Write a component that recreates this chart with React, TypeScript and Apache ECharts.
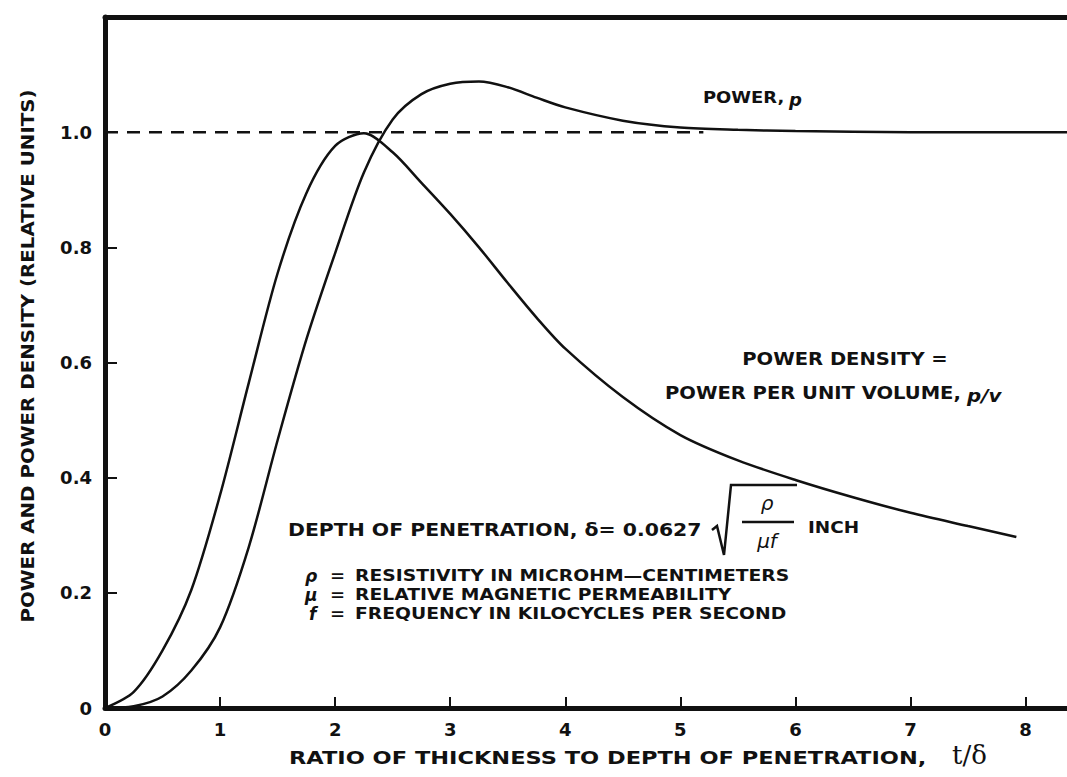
import React, { useEffect, useRef } from 'react';
import * as echarts from 'echarts';

// Axis ticks
const xTicks = [0, 1, 2, 3, 4, 5, 6, 7, 8];
const yTicks = [0, 0.2, 0.4, 0.6, 0.8, 1.0];

// Power density (p/v)
const densityX = [0, 0.25, 0.5, 0.75, 1.0, 1.25, 1.5, 1.75, 2.0, 2.25, 2.5, 2.75, 3.0, 3.25, 3.5, 3.75, 4.0, 4.5, 5.0, 5.5, 6.0, 6.5, 7.0, 7.5, 7.92];
const densityY = [0, 0.028, 0.1, 0.205, 0.37, 0.565, 0.755, 0.894, 0.976, 0.998, 0.965, 0.912, 0.858, 0.8, 0.738, 0.678, 0.624, 0.54, 0.474, 0.43, 0.396, 0.366, 0.339, 0.316, 0.297];

// Power (p)
const powerX = [0, 0.25, 0.5, 0.75, 1.0, 1.25, 1.5, 1.75, 2.0, 2.25, 2.5, 2.75, 3.0, 3.25, 3.5, 3.75, 4.0, 4.5, 5.0, 5.5, 6.0, 7.0, 8.36];
const powerY = [0, 0.003, 0.02, 0.065, 0.14, 0.28, 0.465, 0.64, 0.79, 0.93, 1.022, 1.066, 1.084, 1.088, 1.078, 1.06, 1.043, 1.02, 1.008, 1.004, 1.002, 1.0, 1.0];

// Dashed reference level
const refX = [0, 5.2];
const refY = [1, 1];

const FONT = '"DejaVu Sans", Arial, sans-serif';
const INK = '#111';

type TOpt = { size?: number; sx?: number; rot?: number; align?: string; italic?: boolean; weight?: string; family?: string };
const txt = (text: string, x: number, y: number, o: TOpt = {}) => ({
  type: 'text',
  x,
  y,
  scaleX: o.sx ?? 1.2,
  rotation: o.rot ?? 0,
  style: {
    text,
    fill: INK,
    fontSize: o.size ?? 17,
    fontWeight: o.weight ?? 'bold',
    fontStyle: o.italic ? 'italic' : 'normal',
    fontFamily: o.family ?? FONT,
    textAlign: o.align ?? 'left',
    textVerticalAlign: 'middle',
    verticalAlign: 'middle',
  },
});

export default function App() {
  const ref = useRef<HTMLDivElement>(null);

  useEffect(() => {
    if (!ref.current) return;
    const chart = echarts.init(ref.current, null, { renderer: 'svg' });
    const pairs = (xs: number[], ys: number[]) => xs.map((x, i) => [x, ys[i]]);

    chart.setOption({
      animation: false,
      backgroundColor: '#fff',
      grid: { left: 105, right: 0, top: 17, bottom: 69 },
      xAxis: [
        {
          type: 'value',
          min: 0,
          max: 8.36,
          interval: 1,
          axisLine: { show: true, onZero: false, lineStyle: { color: INK, width: 5 } },
          axisTick: { show: true, inside: true, length: 11, customValues: xTicks, lineStyle: { color: INK, width: 2 } },
          axisLabel: {
            customValues: xTicks,
            margin: 12,
            color: INK,
            fontFamily: FONT,
            fontWeight: 'bold',
            fontSize: 18,
            formatter: (v: number) => String(v),
          },
          splitLine: { show: false },
        },
        {
          type: 'value',
          position: 'top',
          min: 0,
          max: 8.36,
          axisLine: { show: true, onZero: false, lineStyle: { color: INK, width: 5 } },
          axisTick: { show: false },
          axisLabel: { show: false },
          splitLine: { show: false },
        },
      ],
      yAxis: {
        type: 'value',
        min: 0,
        max: 1.2,
        interval: 0.2,
        axisLine: { show: true, onZero: false, lineStyle: { color: INK, width: 5 } },
        axisTick: { show: true, inside: true, length: 12, customValues: yTicks, lineStyle: { color: INK, width: 2 } },
        axisLabel: {
          customValues: yTicks,
          margin: 13,
          color: INK,
          fontFamily: FONT,
          fontWeight: 'bold',
          fontSize: 18,
          formatter: (v: number) => (v === 0 ? '0' : v.toFixed(1)),
        },
        splitLine: { show: false },
      },
      series: [
        {
          name: 'Power density',
          type: 'line',
          data: pairs(densityX, densityY),
          showSymbol: false,
          smooth: 0.3,
          smoothMonotone: 'none',
          lineStyle: { color: INK, width: 2.5 },
        },
        {
          name: 'Power',
          type: 'line',
          data: pairs(powerX, powerY),
          showSymbol: false,
          smooth: 0.3,
          smoothMonotone: 'none',
          lineStyle: { color: INK, width: 2.5 },
        },
        {
          name: 'Reference',
          type: 'line',
          data: pairs(refX, refY),
          showSymbol: false,
          lineStyle: { color: INK, width: 2.5, type: [13, 9] },
        },
      ],
      graphic: [
        // axis titles
        txt('POWER AND POWER DENSITY (RELATIVE UNITS)', 27, 356, { rot: Math.PI / 2, align: 'center', size: 18, sx: 1.1 }),
        txt('RATIO OF THICKNESS TO DEPTH OF PENETRATION,', 289, 758, { size: 18, sx: 1.25 }),
        txt('t/δ', 952, 755, { size: 26, sx: 1.0, weight: 'normal', family: '"DejaVu Serif", serif' }),
        // curve labels
        txt('POWER,', 703, 97, { size: 16, sx: 1.12 }),
        txt('p', 789, 99, { size: 18, sx: 1.0, italic: true }),
        txt('POWER DENSITY =', 845, 359, { size: 17, sx: 1.15, align: 'center' }),
        txt('POWER PER UNIT VOLUME,', 665, 393, { size: 17, sx: 1.15 }),
        txt('p/v', 967, 395, { size: 18, sx: 1.1, italic: true }),
        // depth of penetration formula
        txt('DEPTH OF PENETRATION, δ= 0.0627', 288, 530, { size: 17, sx: 1.2 }),
        {
          type: 'polyline',
          shape: { points: [[712, 530], [717, 526], [724, 555], [731, 485], [797, 485]] },
          style: { stroke: INK, lineWidth: 2.5, fill: 'none' },
        },
        txt('ρ', 767, 503, { size: 20, sx: 1.0, italic: true, weight: 'normal', align: 'center' }),
        { type: 'line', shape: { x1: 742, y1: 522, x2: 794, y2: 522 }, style: { stroke: INK, lineWidth: 2.5 } },
        txt('μf', 767, 541, { size: 20, sx: 1.0, italic: true, weight: 'normal', align: 'center' }),
        txt('INCH', 808, 527, { size: 16, sx: 1.15 }),
        // legend of symbols
        txt('ρ', 305, 576, { size: 17, sx: 1.0, italic: true }),
        txt('=', 330, 576, { size: 15, sx: 1.2 }),
        txt('RESISTIVITY IN MICROHM—CENTIMETERS', 355, 576, { size: 15, sx: 1.25 }),
        txt('μ', 305, 595, { size: 17, sx: 1.0, italic: true }),
        txt('=', 330, 595, { size: 15, sx: 1.2 }),
        txt('RELATIVE MAGNETIC PERMEABILITY', 355, 595, { size: 15, sx: 1.25 }),
        txt('f', 309, 614, { size: 17, sx: 1.0, italic: true }),
        txt('=', 330, 614, { size: 15, sx: 1.2 }),
        txt('FREQUENCY IN KILOCYCLES PER SECOND', 355, 614, { size: 15, sx: 1.25 }),
      ],
    });
    return () => chart.dispose();
  }, []);

  return (
    <div
      ref={ref}
      style={{ position: 'absolute', left: 0, top: 0, width: 1067, height: 777, background: '#fff' }}
    />
  );
}
